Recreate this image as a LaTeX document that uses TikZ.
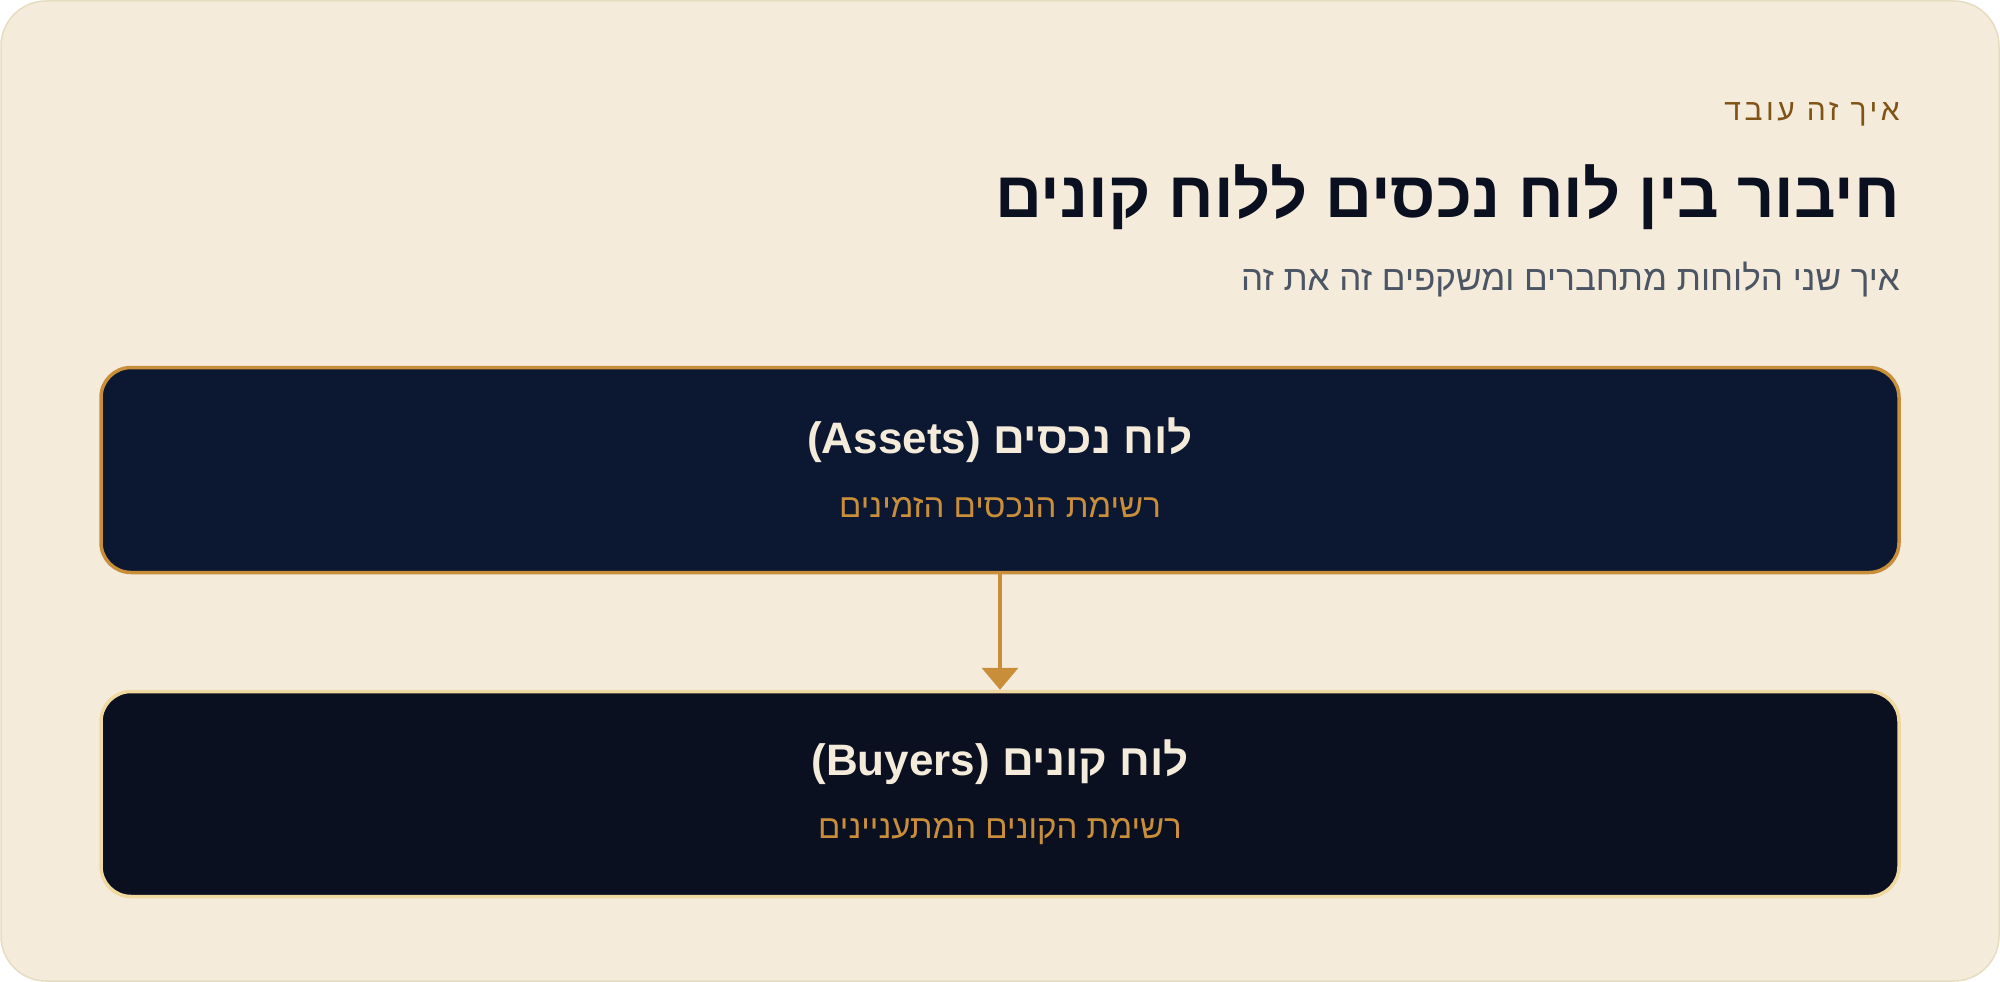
\documentclass[tikz,border=0pt]{standalone}
\usepackage{fontspec}
\setmainfont{Liberation Sans}
\newfontfamily\hebfont[Script=Hebrew]{Liberation Sans}
\newfontfamily\hebwide[Script=Hebrew,LetterSpace=12]{Liberation Sans}
\TeXXeTstate=1
\usetikzlibrary{calc,positioning,arrows.meta}
\definecolor{paper}{HTML}{F4EBDB}
\definecolor{paperline}{HTML}{E6DCC2}
\definecolor{navy}{HTML}{0C1832}
\definecolor{nightink}{HTML}{0A1020}
\definecolor{gold}{HTML}{C98E3A}
\definecolor{palegold}{HTML}{F0D9A0}
\definecolor{labelbrown}{HTML}{7F5416}
\definecolor{slate}{HTML}{4B5563}
\def\boardw{1798}
\def\boardh{205}
\def\boardsep{324}
\tikzset{
  board/.style n args={2}{
    rectangle, rounded corners=30pt,
    minimum width=\boardw pt, minimum height=\boardh pt,
    line width=3.5pt, draw=#1, fill=#2,
  },
  boardtitle/.style={
    anchor=base, text=paper,
    font=\hebfont\bfseries\fontsize{44}{52}\selectfont
  },
  boardsub/.style={
    anchor=base, text=gold,
    font=\hebfont\fontsize{33}{40}\selectfont
  },
  headtext/.style={anchor=base east, inner sep=0pt},
  flow/.style={-{Triangle[width=36pt,length=22pt]}, line width=4pt, draw=gold},
}

\begin{document}
\begin{tikzpicture}[x=1pt, y=1pt]
    \useasboundingbox (0,0) rectangle (2000,-982);
    \draw[paperline, fill=paper, line width=1.5pt, rounded corners=45pt] (1,-1) rectangle (1999,-981);

    %% Heading
    \node[headtext, text=labelbrown, font=\hebwide\fontsize{30}{36}\selectfont] (kicker) at (1900,-120) {\beginR איך זה עובד\endR};
    \node[headtext, text=nightink, font=\hebfont\bfseries\fontsize{65}{74}\selectfont] (title) at (1900,-217) {\beginR חיבור בין לוח נכסים ללוח קונים\endR};
    \node[headtext, text=slate, font=\hebfont\fontsize{35}{42}\selectfont] (subtitle) at (1900,-290) {\beginR איך שני הלוחות מתחברים ומשקפים זה את זה\endR};

    %% Boards
    \node[board={gold}{navy}] (assets) at (1000,-470) {};
    \node[board={palegold}{nightink}, below of=assets, node distance=\boardsep pt] (buyers) {};

    % Board texts
    \node[boardtitle] (assetstitle) at ($(assets)+(0,17)$) {\beginR לוח נכסים \beginL(Assets)\endL\endR};
    \node[boardsub] (assetssub) at ($(assets)+(0,-47)$) {\beginR רשימת הנכסים הזמינים\endR};
    \node[boardtitle] (buyerstitle) at ($(buyers)+(0,19)$) {\beginR לוח קונים \beginL(Buyers)\endL\endR};
    \node[boardsub] (buyerssub) at ($(buyers)+(0,-44)$) {\beginR רשימת הקונים המתעניינים\endR};

    %% Edge
    \draw[flow] (assets) -- (buyers);
\end{tikzpicture}
\end{document}
